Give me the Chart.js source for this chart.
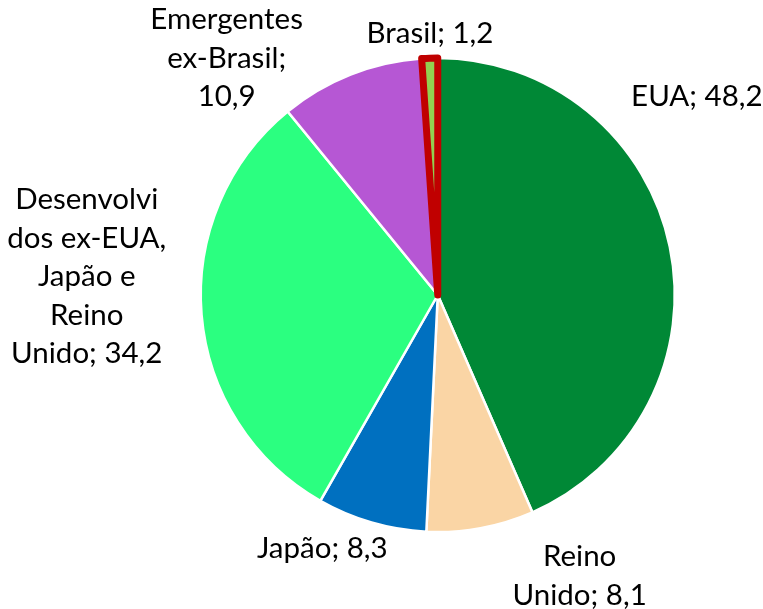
<!DOCTYPE html>
<html>
<head>
<meta charset="utf-8">
<script src="https://cdn.jsdelivr.net/npm/chart.js@4.4.1/dist/chart.umd.min.js"></script>
<style>
  html, body { margin: 0; padding: 0; background: #ffffff; }
  #wrap { width: 763px; height: 609px; position: relative; }
</style>
</head>
<body>
<div id="wrap"><canvas id="c" width="763" height="609"></canvas></div>
<script>
// ---- data ----
const categories = ["EUA", "Reino Unido", "Japão", "Desenvolvidos ex-EUA, Japão e Reino Unido", "Emergentes ex-Brasil", "Brasil"];
const values = [48.2, 8.1, 8.3, 34.2, 10.9, 1.2];
// label text lines ({v} is replaced by the value)
const labelLines = [
  ["EUA; {v}"],
  ["Reino", "Unido; {v}"],
  ["Japão; {v}"],
  ["Desenvolvi", "dos ex-EUA,", "Japão e", "Reino", "Unido; {v}"],
  ["Emergentes", "ex-Brasil;", "{v}"],
  ["Brasil; {v}"]
];

// ---- styles ----
const fillColors = ["#008836", "#FAD5A5", "#0070C0", "#2BFF80", "#B657D4", "#92D050"];
const borderColors = ["#ffffff", "#ffffff", "#ffffff", "#ffffff", "#ffffff", "#C00000"];
const borderWidths = [2.5, 2.5, 2.5, 2.5, 2.5, 7];
// label placement: polar angle (deg clockwise from top) and distance in radii from pie centre
const labelPlacement = [
  { angle: 52.5, dist: 1.378 },
  { angle: 153.2, dist: 1.328 },
  { angle: 204.45, dist: 1.177 },
  { angle: 272.94, dist: 1.483 },
  { angle: 318.3, dist: 1.339 },
  { angle: 358.3, dist: 1.106 }
];
const FONT = '29.5px Lato, "Liberation Sans", sans-serif';
const LINE_H = 38.5;

const fmt = v => v.toFixed(1).replace('.', ',');

const labelPlugin = {
  id: 'outLabels',
  afterDatasetsDraw(chart) {
    const ctx = chart.ctx;
    const meta = chart.getDatasetMeta(0);
    ctx.save();
    ctx.font = FONT;
    ctx.fillStyle = '#000000';
    ctx.textAlign = 'center';
    ctx.textBaseline = 'middle';
    meta.data.forEach((arc, i) => {
      const p = arc.getProps(['x', 'y', 'outerRadius'], true);
      const pl = labelPlacement[i];
      const a = pl.angle * Math.PI / 180;
      const cx = p.x + Math.sin(a) * p.outerRadius * pl.dist;
      const cy = p.y - Math.cos(a) * p.outerRadius * pl.dist;
      const lines = labelLines[i].map(s => s.replace('{v}', fmt(values[i])));
      const y0 = cy - (lines.length - 1) * LINE_H / 2;
      lines.forEach((s, k) => ctx.fillText(s, cx, y0 + k * LINE_H));
    });
    ctx.restore();
  }
};

new Chart(document.getElementById('c'), {
  type: 'pie',
  data: {
    labels: categories,
    datasets: [{
      data: values,
      backgroundColor: fillColors,
      borderColor: borderColors,
      borderWidth: borderWidths,
      borderJoinStyle: 'round'
    }]
  },
  options: {
    responsive: false,
    animation: false,
    events: [],
    layout: { padding: { left: 197, right: 84.5, top: 54.5, bottom: 73.5 } },
    plugins: {
      legend: { display: false },
      tooltip: { enabled: false }
    }
  },
  plugins: [labelPlugin]
});
</script>
</body>
</html>
